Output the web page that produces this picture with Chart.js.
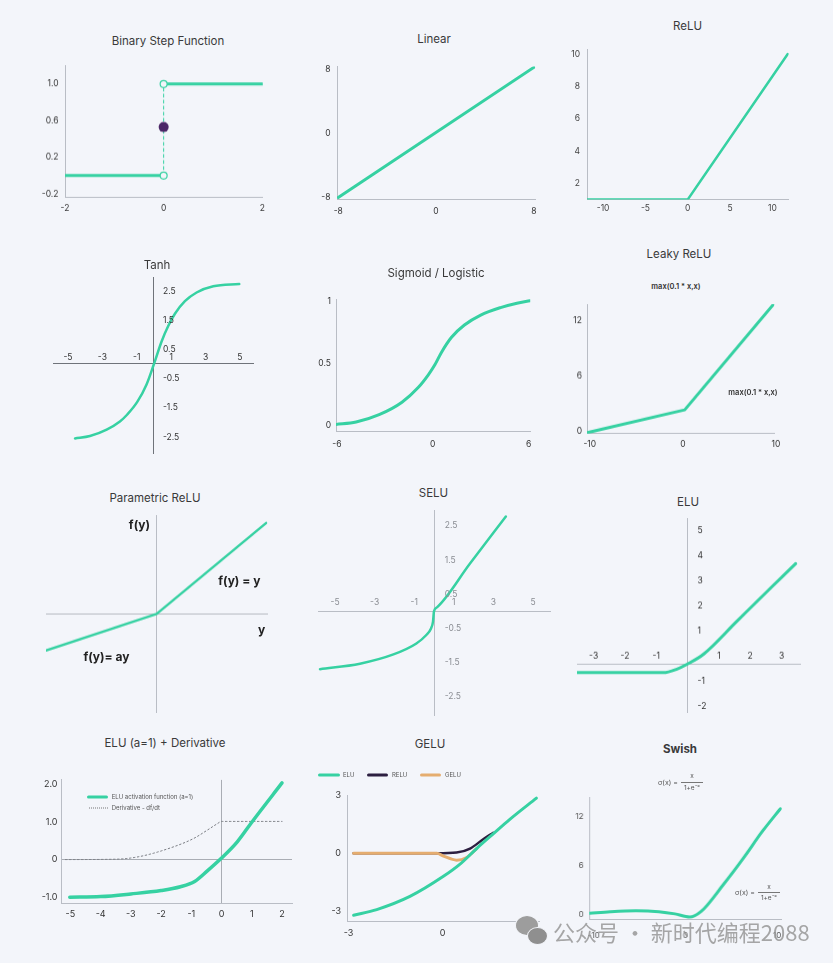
<!DOCTYPE html>
<html>
<head>
<meta charset="utf-8">
<script src="https://cdn.jsdelivr.net/npm/chart.js@4.4.1/dist/chart.umd.min.js"></script>
<style>
  html, body { margin: 0; padding: 0; width: 833px; height: 963px; overflow: hidden; background: #f3f5fa; font-family: Inter, "Noto Sans", sans-serif; }
  .box { position: absolute; }
  .t { position: absolute; transform: translate(-50%, -50%); white-space: nowrap; line-height: 1; color: #333; }
  .l { transform: translate(0, -50%); }
  .title { font-size: 11.5px; color: #3a3a3a; }
  .note { font-size: 12px; font-weight: 700; color: #222; }
  .tiny { font-size: 6px; color: #555; }
  .frm { display: flex; align-items: center; gap: 3px; font-size: 7px; color: #555; }
  .frac { display: flex; flex-direction: column; align-items: center; font-size: 6.5px; }
  .frac span:last-child { border-top: 0.8px solid #777; padding: 2px 3px 0; }
  .frac span:first-child { padding-bottom: 2px; }
  .swatch { position: absolute; height: 3px; border-radius: 2px; transform: translateY(-50%); }
  .wm { font-family: "Noto Sans CJK SC", sans-serif; font-size: 22px; color: rgba(150,150,150,0.85); }
  .bub { position: absolute; border-radius: 50%; background: #9d9d9d; border: 1.5px solid #f3f5fa; }
</style>
</head>
<body>
<script>
const TEAL = '#36d1a2';
const AXIS = '#b9bdc5';
const BG = '#f3f5fa';

// Binary step function
const stepLeftX = [-2, 0], stepLeftY = [0, 0];
const stepRightX = [0, 2], stepRightY = [1, 1];
const stepJumpX = [0, 0], stepJumpY = [0, 1];
const stepDotX = [0], stepDotY = [0.53];
const stepXTicks = [-2, 0, 2], stepYTicks = [-0.2, 0.2, 0.6, 1.0];

// Linear
const linearX = [-8, 8.1], linearY = [-8, 8.4];
const linearXTicks = [-8, 0, 8], linearYTicks = [-8, 0, 8];

// ReLU
const reluX = [-11.9, 0, 11.8], reluY = [1, 1, 10];
const reluXTicks = [-10, -5, 0, 5, 10], reluYTicks = [2, 4, 6, 8, 10];

// Tanh
const tanhX = [-4.59, -3.72, -2.75, -1.98, -1.55, -0.97, -0.43, 0, 0.45, 0.83, 1.22, 1.8, 2.48, 3.45, 4.96];
const tanhY = [-2.55, -2.47, -2.25, -1.97, -1.73, -1.3, -0.7, 0, 0.78, 1.3, 1.72, 2.15, 2.45, 2.66, 2.74];
const tanhXTicks = [-5, -3, -1, 1, 3, 5], tanhYTicks = [-2.5, -1.5, -0.5, 0.5, 1.5, 2.5];

// Sigmoid / Logistic
const sigX = [-6.07, -4.8, -3.36, -1.93, -0.9, -0.28, 0.13, 0.54, 1.16, 1.98, 3.0, 4.24, 5.27, 6.09];
const sigY = [0.011, 0.031, 0.09, 0.19, 0.31, 0.41, 0.49, 0.59, 0.71, 0.81, 0.89, 0.95, 0.985, 1.005];
const sigXTicks = [-6, 0, 6], sigYTicks = [0, 0.5, 1];

// Leaky ReLU
const leakyX = [-10.3, 0.2, 9.8], leakyY = [-0.2, 2.3, 13.9];
const leakyXTicks = [-10, 0, 10], leakyYTicks = [0, 6, 12];

// Parametric ReLU
const preluX = [-1, 0, 0.99], preluY = [-0.37, 0, 0.92];

// SELU
const seluX = [-5.76, -3.74, -2.05, -0.89, -0.4, -0.15, -0.05, 0, 0.15, 1.8, 3.63];
const seluY = [-1.69, -1.53, -1.26, -0.94, -0.7, -0.5, -0.3, 0, 0.115, 1.38, 2.77];
const seluXTicks = [-5, -3, -1, 1, 3, 5], seluYTicks = [-2.5, -1.5, -0.5, 0.5, 1.5, 2.5];

// ELU
const eluX = [-3.53, -0.77, -0.34, 0, 0.52, 1.57, 2.64, 3.45];
const eluY = [-0.65, -0.65, -0.51, -0.31, 0.09, 1.38, 2.69, 3.67];
const eluXTicks = [-3, -2, -1, 1, 2, 3], eluYTicks = [-2, -1, 1, 2, 3, 4, 5];

// ELU (a=1) + derivative
const eluDX = [-5.02, -4, -3, -2, -1.36, -0.89, -0.47, 0, 0.52, 1, 2];
const eluDY = [-0.995, -0.98, -0.91, -0.82, -0.72, -0.58, -0.3, 0.04, 0.47, 0.99, 2.03];
const derivX = [-5.16, -3.5, -2.68, -1.58, -0.92, -0.47, -0.14, 0, 2];
const derivY = [0, 0.01, 0.085, 0.34, 0.56, 0.78, 0.95, 1.01, 1.01];
const eluDXTicks = [-5, -4, -3, -2, -1, 0, 1, 2], eluDYTicks = [-1, 0, 1, 2];
const eluDNames = ['ELU activation function (a=1)', 'Derivative - df/dt'];

// GELU comparison
const geluNames = ['ELU', 'RELU', 'GELU'];
const geluTealX = [-2.84, -2.1, -1.04, 0.03, 0.56, 1.09, 1.62, 2.15, 3.0];
const geluTealY = [-3.2, -2.91, -2.23, -1.19, -0.56, 0.25, 1.01, 1.76, 2.86];
const geluReluX = [-2.84, -0.18, 0.45, 0.88, 1.3, 1.62];
const geluReluY = [0, 0, 0.04, 0.25, 0.73, 1.07];
const geluGeluX = [-2.84, -0.18, 0.03, 0.45, 0.77, 1.09];
const geluGeluY = [0, 0, -0.14, -0.35, -0.21, 0.25];
const geluXTicks = [-3, 0, 3], geluYTicks = [-3, 0, 3];

// Swish
const swishX = [-10.45, -8.2, -5.4, -2.9, -1.15, 0.45, 1.68, 4.16, 6.28, 8.4, 10.35];
const swishY = [0.12, 0.31, 0.43, 0.31, 0.04, -0.35, 0.31, 3.66, 6.8, 10.15, 12.9];
const swishXTicks = [-10, 0, 10], swishYTicks = [0, 6, 12];

const pts = (xs, ys) => xs.map((x, i) => ({ x, y: ys[i] }));
const str = v => String(v);

// tick labels for axes that cross in the middle of the plot
const crossTicks = {
  id: 'crossTicks',
  afterDraw(chart, args, o) {
    if (!o || o.xAt === undefined) return;
    const { ctx, scales: { x, y } } = chart;
    const row = y.getPixelForValue(o.xAt);
    const col = x.getPixelForValue(0);
    ctx.save();
    ctx.font = (o.size || 8.5) + 'px Inter';
    ctx.fillStyle = o.color || '#333';
    ctx.textBaseline = 'middle';
    ctx.textAlign = 'center';
    x.ticks.forEach(t => ctx.fillText(str(t.value), x.getPixelForValue(t.value), row - o.xGap));
    ctx.textAlign = 'left';
    y.ticks.forEach(t => ctx.fillText(str(t.value), col + o.yGap, y.getPixelForValue(t.value)));
    ctx.restore();
  }
};

function axis(min, max, ticks, o = {}) {
  const a = {
    type: 'linear', min, max,
    afterBuildTicks: s => { s.ticks = ticks.map(v => ({ value: v })); },
    grid: { display: !!o.zero, drawTicks: false, color: c => (c.tick && c.tick.value === 0 ? o.zero : 'transparent') },
    border: { display: true, color: o.line || AXIS, width: 1 },
    ticks: { display: !o.cross, padding: o.pad ?? 6, color: o.color || '#333', font: { family: 'Inter', size: o.size || 8.5 }, callback: o.fmt || str }
  };
  if (o.cross) a.position = o.cross;
  return a;
}

function makeChart(rect, frame, scales, datasets, cross) {
  const [l, t, r, b] = rect;
  const pad = 6, padL = frame ? 40 : pad, padB = frame ? 26 : pad;
  const div = document.createElement('div');
  div.className = 'box';
  Object.assign(div.style, {
    left: (l - padL) + 'px', top: (t - pad) + 'px',
    width: (r - l + padL + pad) + 'px', height: (b - t + pad + padB) + 'px'
  });
  const cv = document.createElement('canvas');
  div.appendChild(cv);
  document.body.appendChild(div);
  if (frame) {
    scales.x.afterFit = s => { s.height = padB; };
    scales.y.afterFit = s => { s.width = padL; };
  }
  return new Chart(cv, {
    type: 'line',
    data: { datasets },
    options: {
      responsive: true, maintainAspectRatio: false, animation: false, events: [],
      layout: { padding: frame ? { left: 0, top: pad, right: pad, bottom: 0 } : pad },
      elements: { point: { radius: 0 }, line: { borderCapStyle: 'round', borderJoinStyle: 'round' } },
      plugins: { legend: { display: false }, tooltip: { enabled: false }, crossTicks: cross || {} },
      scales
    },
    plugins: [crossTicks]
  });
}

// straight segments
const line = (data, w, extra = {}) => Object.assign({ data, borderColor: TEAL, borderWidth: w, tension: 0 }, extra);
// smooth curve through the read points
const curve = (data, w, extra = {}) => line(data, w, Object.assign({ cubicInterpolationMode: 'monotone' }, extra));

// 1. Binary step
makeChart([65, 60, 264.4, 196.7], true, {
  x: axis(-2, 2.01, stepXTicks, { pad: 5.5 }),
  y: axis(-0.24, 1.2, stepYTicks, { pad: 6.5, fmt: v => v.toFixed(1) })
}, [
  { data: pts(stepDotX, stepDotY), showLine: false, pointRadius: 5, pointBackgroundColor: '#4b2767', pointBorderWidth: 0 },
  { data: pts(stepJumpX, stepJumpY), borderColor: TEAL, borderWidth: 1, borderDash: [3, 3],
    pointRadius: 3.5, pointBackgroundColor: BG, pointBorderColor: TEAL, pointBorderWidth: 1.2 },
  line(pts(stepLeftX, stepLeftY), 3),
  line(pts(stepRightX, stepRightY), 3)
]);

// 2. Linear
makeChart([336.7, 61, 537.2, 199], true, {
  x: axis(-8.1, 8.1, linearXTicks, { pad: 7 }),
  y: axis(-8.2, 8.4, linearYTicks, { pad: 6.5 })
}, [line(pts(linearX, linearY), 3)]);

// 3. ReLU
makeChart([586.7, 42.7, 788.3, 199.3], true, {
  x: axis(-11.9, 11.9, reluXTicks, { pad: 3.6, color: '#444' }),
  y: axis(0.99, 10.3, reluYTicks, { pad: 7, color: '#444' })
}, [line(pts(reluX, reluY), 2.5)]);

// 4. Tanh
makeChart([53, 277, 253, 453], false, {
  x: axis(-5.87, 5.76, tanhXTicks, { cross: { y: 0 }, line: '#6f737a' }),
  y: axis(-3.05, 2.98, tanhYTicks, { cross: { x: 0 }, line: '#6f737a' })
}, [curve(pts(tanhX, tanhY), 2.5)], { xAt: 0, xGap: 7, yGap: 9 });

// 5. Sigmoid
makeChart([336.2, 295, 533.5, 431], true, {
  x: axis(-6.06, 6.1, sigXTicks, { pad: 8 }),
  y: axis(-0.041, 1.018, sigYTicks, { pad: 5 })
}, [curve(pts(sigX, sigY), 3)]);

// 6. Leaky ReLU
makeChart([587, 300, 780.3, 432.7], true, {
  x: axis(-10.3, 9.82, leakyXTicks, { pad: 6 }),
  y: axis(-0.29, 13.84, leakyYTicks, { pad: 5 })
}, [line(pts(leakyX, leakyY), 3)]);

// 7. Parametric ReLU
makeChart([45.7, 515, 267, 711.7], false, {
  x: axis(-1, 1, [], { cross: { y: 0 } }),
  y: axis(-1, 1, [], { cross: { x: 0 } })
}, [line(pts(preluX, preluY), 2.5)]);

// 8. SELU
makeChart([318, 510, 550, 715], false, {
  x: axis(-5.86, 5.86, seluXTicks, { cross: { y: 0 } }),
  y: axis(-3.03, 2.96, seluYTicks, { cross: { x: 0 } })
}, [curve(pts(seluX, seluY), 2.5)], { xAt: 0, xGap: 8.7, yGap: 10.7, color: '#8a8d93' });

// 9. ELU
makeChart([576.7, 518, 800, 711.7], false, {
  x: axis(-3.53, 3.6, eluXTicks, { cross: { y: -0.3 } }),
  y: axis(-2.24, 5.48, eluYTicks, { cross: { x: 0 } })
}, [curve(pts(eluX, eluY), 3)], { xAt: -0.3, xGap: 7.6, yGap: 10 });

// 10. ELU (a=1) + Derivative
makeChart([60.7, 776.7, 291.7, 902.7], true, {
  x: axis(-5.31, 2.33, eluDXTicks, { pad: 5.5, size: 9, zero: '#a9adb4' }),
  y: axis(-1.15, 2.11, eluDYTicks, { pad: 3.5, size: 9, zero: '#a9adb4', fmt: v => (v === 0 ? '0' : v.toFixed(1)) })
}, [
  curve(pts(eluDX, eluDY), 3.5, { label: eluDNames[0] }),
  curve(pts(derivX, derivY), 1, { label: eluDNames[1], borderColor: '#7a7d83', borderDash: [1.5, 2.5] })
]);

// 11. GELU
makeChart([346.7, 790, 540, 921], true, {
  x: axis(-3.05, 3.1, geluXTicks, { pad: 7, size: 9 }),
  y: axis(-3.5, 3.0, geluYTicks, { pad: 6, size: 9 })
}, [
  curve(pts(geluTealX, geluTealY), 3, { label: geluNames[0] }),
  curve(pts(geluGeluX, geluGeluY), 3, { label: geluNames[2], borderColor: '#e5ad6f' }),
  curve(pts(geluReluX, geluReluY), 2.5, { label: geluNames[1], borderColor: '#2c1f40' })
]);

// 12. Swish
makeChart([589, 793.3, 786.5, 919.4], true, {
  x: axis(-10.5, 10.5, swishXTicks, { pad: 12, size: 8, color: '#555' }),
  y: axis(-0.6, 14.3, swishYTicks, { pad: 5.5, size: 8, color: '#555' })
}, [curve(pts(swishX, swishY), 3)]);

// text overlays
function text(html, x, y, cls, left) {
  const d = document.createElement('div');
  d.className = 't ' + cls + (left ? ' l' : '');
  d.innerHTML = html;
  d.style.left = x + 'px';
  d.style.top = y + 'px';
  document.body.appendChild(d);
  return d;
}
function swatch(x1, x2, y, style) {
  const d = document.createElement('div');
  d.className = 'swatch';
  Object.assign(d.style, { left: x1 + 'px', top: y + 'px', width: (x2 - x1) + 'px' }, style);
  document.body.appendChild(d);
}

[
  ['Binary Step Function', 168, 41.5], ['Linear', 434, 40], ['ReLU', 687.5, 27],
  ['Tanh', 157, 266], ['Sigmoid / Logistic', 436, 274], ['Leaky ReLU', 679, 255],
  ['Parametric ReLU', 155, 499], ['SELU', 433.5, 494.3], ['ELU', 688, 502.7],
  ['ELU (a=1) + Derivative', 165, 744.3], ['GELU', 430, 745]
].forEach(([s, x, y]) => text(s, x, y, 'title'));
text('Swish', 680, 750, 'title').style.fontWeight = '700';

text('max(0.1 * x,x)', 676, 287, 'tiny').style.cssText += 'font-size:7.5px;font-weight:600;color:#333';
text('max(0.1 * x,x)', 753, 393, 'tiny').style.cssText += 'font-size:7.5px;font-weight:600;color:#333';

text('f(y)', 139.4, 525, 'note');
text('f(y) = y', 239.4, 581, 'note');
text('y', 261.7, 630, 'note');
text('f(y)= ay', 106.4, 657, 'note');

const fracHtml = 'σ(x) = <span class="frac"><span>x</span><span>1+e⁻ˣ</span></span>';
text(fracHtml, 658, 782, 'frm', true);
text(fracHtml, 735, 892.5, 'frm', true);

// ELU + derivative legend
swatch(86.7, 108.3, 797.3, { background: TEAL });
text(eluDNames[0], 111.7, 797.3, 'tiny', true);
swatch(89, 108, 808.3, { height: 0, borderTop: '1px dotted #777', borderRadius: 0 });
text(eluDNames[1], 111.7, 808.3, 'tiny', true);

// GELU legend
swatch(318, 340, 775, { background: TEAL });
text(geluNames[0], 343, 775, 'tiny', true);
swatch(367, 388, 775, { background: '#2c1f40' });
text(geluNames[1], 392, 775, 'tiny', true);
swatch(420, 441, 775, { background: '#e5ad6f' });
text(geluNames[2], 445, 775, 'tiny', true);

// watermark
const b1 = document.createElement('div'); b1.className = 'bub';
Object.assign(b1.style, { left: '515px', top: '915px', width: '22px', height: '19px' });
const b2 = document.createElement('div'); b2.className = 'bub';
Object.assign(b2.style, { left: '527px', top: '927px', width: '19px', height: '16px', background: '#8f8f8f' });
document.body.appendChild(b1); document.body.appendChild(b2);
text('公众号 · 新时代编程2088', 553, 931, 'wm', true);
</script>
</body>
</html>
